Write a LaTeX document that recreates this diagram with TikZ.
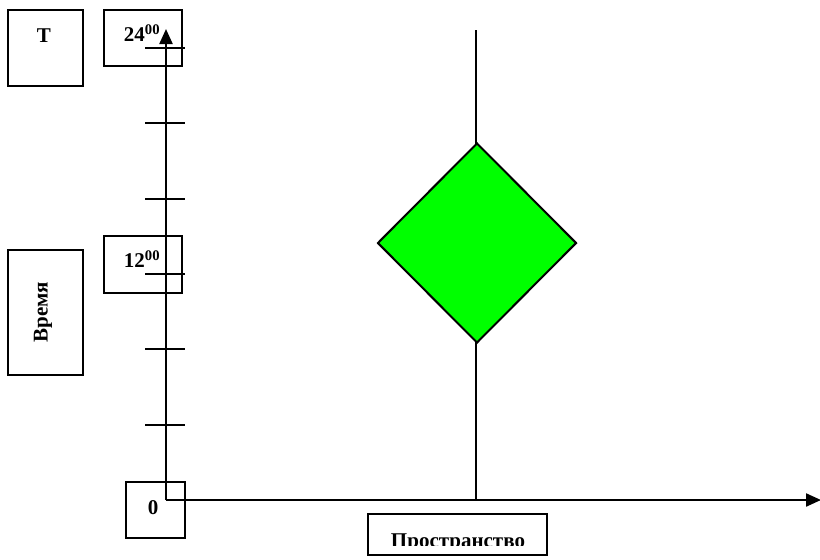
\documentclass[tikz,border=0pt]{standalone}
\usepackage{fontspec}
\setmainfont{Liberation Serif}
\usetikzlibrary{arrows.meta,shapes.geometric}
\definecolor{brightgreen}{RGB}{0,255,0}
\tikzset{
  box/.style={draw,line width=1.6pt,inner sep=0pt},
  lbl/.style={font=\fontsize{21}{21}\selectfont\bfseries,inner sep=0pt},
  axis/.style={line width=2.2pt,-{Triangle[length=15pt,width=13pt]}},
  tick/.style={line width=1.8pt}
}
\begin{document}
\begin{tikzpicture}[x=1pt,y=-1pt]
        \useasboundingbox (0,0) rectangle (820,560);
        % boxes
        \node[box,minimum width=75,minimum height=76] (tbox) at (45.5,48) {};
        \node[lbl] (tlbl) at (44,36) {T};
        \node[box,minimum width=75,minimum height=125] (vbox) at (45.5,312.5) {};
        \node[lbl,rotate=90] (vlbl) at (43,312) {Время};
        \node[box,minimum width=78,minimum height=56] (box24) at (143,38) {};
        \node[lbl] (l24) at (142,33) {24$^{\mathbf{00}}$};
        \node[box,minimum width=78,minimum height=57] (box12) at (143,264.5) {};
        \node[lbl] (l12) at (142,259) {12$^{\mathbf{00}}$};
        \node[box,minimum width=59,minimum height=56] (box0) at (155.5,510) {};
        \node[lbl] (l0) at (153,508) {0};
        \node[box,minimum width=179,minimum height=41] (sbox) at (457.5,534.5) {};
        \begin{scope}
          \clip (370,516) rectangle (545,545);
          \node[lbl,anchor=base] (slbl) at (458,547) {Пространство};
        \end{scope}
        % axes
        \coordinate (o) at (166,500);
        \coordinate (ytop) at (166,29);
        \coordinate (xend) at (821,500);
        \draw[axis] (o) -- (ytop);
        \draw[axis] (o) -- (xend);
        \foreach \k in {1,...,6}
          \draw[tick] (145,500-75.33*\k) -- (185,500-75.33*\k);
        % event
        \coordinate (ltop) at (476,30);
        \coordinate (lbot) at (476,500);
        \draw[line width=2pt] (ltop) -- (lbot);
        \node[draw,line width=2pt,fill=brightgreen,diamond,aspect=1,inner sep=0pt,
              minimum width=199,minimum height=200] (ev) at (477,243) {};
\end{tikzpicture}
\end{document}
